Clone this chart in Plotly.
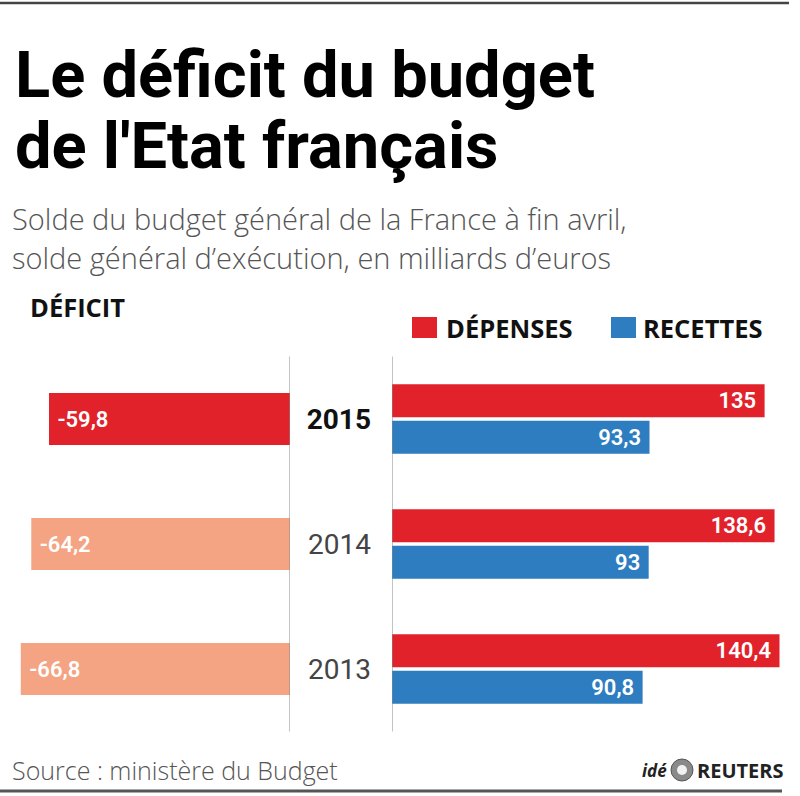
import plotly.graph_objects as go

# ---- data ----
years = ["2015", "2014", "2013"]
deficit = [-59.8, -64.2, -66.8]
depenses = [135, 138.6, 140.4]
recettes = [93.3, 93, 90.8]
deficit_colors = ["#E1222B", "#F4A383", "#F4A383"]

W, H = 800, 796
RED = "#E1222B"
BLUE = "#2E7DC0"
BODY = "Roboto, 'Open Sans', sans-serif"
OPEN = "'Open Sans', Roboto, sans-serif"
TITLE = "Roboto, 'Open Sans', sans-serif"


def fr(v):
    s = ("%.1f" % v).rstrip("0").rstrip(".")
    return s.replace(".", ",")


def px_x(p):
    return p / W


def px_y(p):
    return 1 - p / H


fig = go.Figure()

fig.add_trace(go.Bar(
    y=years, x=deficit, orientation="h", xaxis="x", yaxis="y",
    marker=dict(color=deficit_colors, line=dict(width=0)),
    width=0.416,
    text=["\u00a0" + fr(v) for v in deficit], textposition="inside",
    insidetextanchor="end",
    textfont=dict(family=BODY, size=22, color="white", weight=600),
    showlegend=False, hoverinfo="skip",
))
fig.add_trace(go.Bar(
    y=years, x=recettes, orientation="h", xaxis="x2", yaxis="y2",
    name="RECETTES", marker=dict(color=BLUE, line=dict(width=0)),
    text=[fr(v) + "\u00a0" for v in recettes], textposition="inside",
    insidetextanchor="end",
    textfont=dict(family=BODY, size=22, color="white", weight=600),
    showlegend=False, hoverinfo="skip",
))
fig.add_trace(go.Bar(
    y=years, x=depenses, orientation="h", xaxis="x2", yaxis="y2",
    name="DÉPENSES", marker=dict(color=RED, line=dict(width=0)),
    text=[fr(v) + "\u00a0" for v in depenses], textposition="inside",
    insidetextanchor="end",
    textfont=dict(family=BODY, size=22, color="white", weight=600),
    showlegend=False, hoverinfo="skip",
))

ydom = [px_y(731.5), px_y(356.5)]
cat = dict(categoryorder="array", categoryarray=["2013", "2014", "2015"],
           range=[-0.5, 2.5], fixedrange=True, showgrid=False, zeroline=False)

fig.update_layout(
    width=W, height=H, autosize=False,
    margin=dict(l=0, r=0, t=0, b=0),
    paper_bgcolor="white", plot_bgcolor="white",
    barmode="group", bargap=0.416, bargroupgap=0.1,
    xaxis=dict(domain=[0, px_x(290)], range=[-290 / 4.03, 0], visible=False,
               anchor="y", fixedrange=True),
    xaxis2=dict(domain=[px_x(392), 1], range=[0, (W - 392) / 2.76],
                visible=False, anchor="y2", fixedrange=True),
    yaxis=dict(domain=ydom, anchor="x", showticklabels=False, **cat),
    yaxis2=dict(domain=ydom, anchor="x2", side="left", showticklabels=True,
                tickvals=years,
                ticktext=["<b><span style='color:#111'>2015</span></b>", "2014", "2013"],
                tickfont=dict(family=BODY, size=28, color="#444"),
                ticks="", ticklabelstandoff=20, **cat),
    font=dict(family=BODY),
    showlegend=False,
)

shapes = [
    # vertical separator lines at zero of each axis
    dict(type="line", xref="x", yref="y domain", x0=0, x1=0, y0=0, y1=1,
         line=dict(color="#888", width=1)),
    dict(type="line", xref="x2", yref="y2 domain", x0=0, x1=0, y0=0, y1=1,
         line=dict(color="#888", width=1)),
    # top and bottom rules
    dict(type="line", xref="paper", yref="paper", x0=0, x1=px_x(789),
         y0=px_y(3), y1=px_y(3), line=dict(color="#444", width=2.5)),
    dict(type="line", xref="paper", yref="paper", x0=0, x1=px_x(782),
         y0=px_y(791), y1=px_y(791), line=dict(color="#555", width=3)),
    # legend swatches
    dict(type="rect", xref="paper", yref="paper", x0=px_x(412), x1=px_x(437),
         y0=px_y(338), y1=px_y(317), fillcolor=RED, line=dict(width=0)),
    dict(type="rect", xref="paper", yref="paper", x0=px_x(611), x1=px_x(636),
         y0=px_y(338), y1=px_y(317), fillcolor=BLUE, line=dict(width=0)),
    # reuters logo
    dict(type="circle", xref="paper", yref="paper", x0=px_x(671), x1=px_x(693),
         y0=px_y(781), y1=px_y(759), fillcolor="#8a8a8a", line=dict(color="#555", width=1)),
    dict(type="circle", xref="paper", yref="paper", x0=px_x(677), x1=px_x(687),
         y0=px_y(775), y1=px_y(765), fillcolor="#f2f2f2", line=dict(width=0)),
]
fig.update_layout(shapes=shapes)


def ann(text, x, y, size, color="#111", family=BODY, xanchor="left",
        yanchor="middle", weight=None):
    f = dict(family=family, size=size, color=color)
    if weight is not None:
        f["weight"] = weight
    fig.add_annotation(text=text, x=px_x(x), y=px_y(y), xref="paper",
                       yref="paper", xanchor=xanchor, yanchor=yanchor,
                       showarrow=False, font=f)


ann("<b>Le déficit du budget</b>", 13, 75, 65, "#000", TITLE)
ann("<b>de l'Etat français</b>", 13, 146, 65, "#000", TITLE)
ann("Solde du budget général de la France à fin avril,", 10, 218, 29, "#555",
    OPEN, weight=300)
ann("solde général d’exécution, en milliards d’euros", 10, 257, 29, "#555",
    OPEN, weight=300)
ann("<b>DÉFICIT</b>", 28, 307, 25.5, "#111", OPEN)
ann("<b>DÉPENSES</b>", 444, 328, 25.5, "#111", OPEN)
ann("<b>RECETTES</b>", 641, 328, 25.5, "#111", OPEN)
ann("Source : ministère du Budget", 10, 770, 25, "#555", OPEN, weight=300)
ann("<b><i>idé</i></b>", 669, 770, 17, "#222", OPEN, xanchor="right")
ann("<b>REUTERS</b>", 695, 770, 20, "#222", OPEN)

fig.write_html("out.html", config={"displayModeBar": False},
               post_script="document.body.style.margin='0';")
